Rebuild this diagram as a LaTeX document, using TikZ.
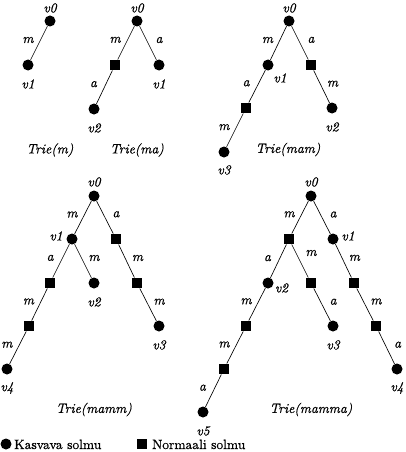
\documentclass[tikz,border=0pt]{standalone}
\usepackage{fontspec}
\setmainfont{lmroman10-regular.otf}[ItalicFont=lmroman10-italic.otf,FakeBold=0.6]
\begin{document}
\begin{tikzpicture}[x=1pt,y=-1pt,
  gnode/.style={circle,fill=black,inner sep=0pt,minimum size=11pt},
  nnode/.style={rectangle,fill=black,inner sep=0pt,minimum size=10.5pt},
  lab/.style={font=\fontsize{13.5}{15}\selectfont\itshape,inner sep=0pt},
  txt/.style={font=\fontsize{13.5}{15}\selectfont,inner sep=0pt},
  conn/.style={line width=0.65pt},
  L/.style={lab,xshift=-11pt,yshift=3pt},
  R/.style={lab,xshift=11pt,yshift=3pt}]
\useasboundingbox (0,0) rectangle (406,452);
% ---------- Trie(m)
\node[gnode] (a0) at (50,21) {};
\node[gnode] (a1) at (28,65) {};
\draw[conn] (a0) -- node[L]{m} (a1);
\node[lab] (la0) at (50,8) {v0};
\node[lab] (la1) at (28,84) {v1};
\node[lab] (ta) at (50,150) {Trie(m)};
% ---------- Trie(ma)
\node[gnode] (b0) at (137,21) {};
\node[nnode] (bs) at (115,65) {};
\node[gnode] (b1) at (159,65) {};
\node[gnode] (b2) at (94,109) {};
\draw[conn] (b0) -- node[L]{m} (bs);
\draw[conn] (b0) -- node[R]{a} (b1);
\draw[conn] (bs) -- node[L]{a} (b2);
\node[lab] (lb0) at (137,8) {v0};
\node[lab] (lb1) at (159,84) {v1};
\node[lab] (lb2) at (94,128) {v2};
\node[lab] (tb) at (137,150) {Trie(ma)};
% ---------- Trie(mam)
\node[gnode] (c0) at (289,21) {};
\node[gnode] (c1) at (268,65) {};
\node[nnode] (cs1) at (311,65) {};
\node[nnode] (cs2) at (246,108) {};
\node[gnode] (c2) at (332,108) {};
\node[gnode] (c3) at (224,152) {};
\draw[conn] (c0) -- node[L]{m} (c1);
\draw[conn] (c0) -- node[R]{a} (cs1);
\draw[conn] (c1) -- node[L]{a} (cs2);
\draw[conn] (cs1) -- node[R]{m} (c2);
\draw[conn] (cs2) -- node[L]{m} (c3);
\node[lab] (lc0) at (289,8) {v0};
\node[lab] (lc1) at (280,78) {v1};
\node[lab] (lc2) at (332,127) {v2};
\node[lab] (lc3) at (224,170) {v3};
\node[lab] (tc) at (288,149.5) {Trie(mam)};
% ---------- Trie(mamm)
\node[gnode] (d0) at (94,196) {};
\node[gnode] (d1) at (72,239) {};
\node[nnode] (ds1) at (116,239) {};
\node[nnode] (ds2) at (50,283) {};
\node[gnode] (d2) at (94,283) {};
\node[nnode] (ds3) at (137,283) {};
\node[nnode] (ds4) at (29,326) {};
\node[gnode] (d3) at (159,326) {};
\node[gnode] (d4) at (7,369) {};
\draw[conn] (d0) -- node[L]{m} (d1);
\draw[conn] (d0) -- node[R]{a} (ds1);
\draw[conn] (d1) -- node[L]{a} (ds2);
\draw[conn] (d1) -- node[R]{m} (d2);
\draw[conn] (ds1) -- node[R]{m} (ds3);
\draw[conn] (ds2) -- node[L]{m} (ds4);
\draw[conn] (ds3) -- node[R]{m} (d3);
\draw[conn] (ds4) -- node[L]{m} (d4);
\node[lab] (ld0) at (94,182) {v0};
\node[lab] (ld1) at (56,236) {v1};
\node[lab] (ld2) at (94,302) {v2};
\node[lab] (ld3) at (159,345) {v3};
\node[lab] (ld4) at (7,388) {v4};
\node[lab] (td) at (94,409.5) {Trie(mamm)};
% ---------- Trie(mamma)
\node[gnode] (e0) at (311,196) {};
\node[nnode] (es1) at (289,239) {};
\node[gnode] (e1) at (333,239) {};
\node[gnode] (e2) at (268,283) {};
\node[nnode] (es2) at (311,283) {};
\node[nnode] (es3) at (354,283) {};
\node[nnode] (es4) at (246,326) {};
\node[gnode] (e3) at (333,326) {};
\node[nnode] (es5) at (376,326) {};
\node[nnode] (es6) at (224,369) {};
\node[gnode] (e4) at (397,369) {};
\node[gnode] (e5) at (203,412) {};
\draw[conn] (e0) -- node[L]{m} (es1);
\draw[conn] (e0) -- node[R]{a} (e1);
\draw[conn] (es1) -- node[L]{a} (e2);
\draw[conn] (es1) -- node[R,yshift=5pt]{m} (es2);
\draw[conn] (e1) -- node[R]{m} (es3);
\draw[conn] (e2) -- node[L]{m} (es4);
\draw[conn] (es2) -- node[R]{a} (e3);
\draw[conn] (es3) -- node[R]{m} (es5);
\draw[conn] (es4) -- node[L]{m} (es6);
\draw[conn] (es5) -- node[R]{a} (e4);
\draw[conn] (es6) -- node[L]{a} (e5);
\node[lab] (le0) at (311,182) {v0};
\node[lab] (le1) at (348,236) {v1};
\node[lab] (le2) at (281.5,288) {v2};
\node[lab] (le3) at (333,345) {v3};
\node[lab] (le4) at (397,388) {v4};
\node[lab] (le5) at (203,431) {v5};
\node[lab] (te) at (311,409.5) {Trie(mamma)};
% ---------- legend
\node[gnode] (kg) at (6,444) {};
\node[txt,anchor=base west] (kt) at (14,449) {Kasvava solmu};
\node[nnode] (ng) at (142,444) {};
\node[txt,anchor=base west] (nt) at (152,449) {Normaali solmu};
\end{tikzpicture}
\end{document}
